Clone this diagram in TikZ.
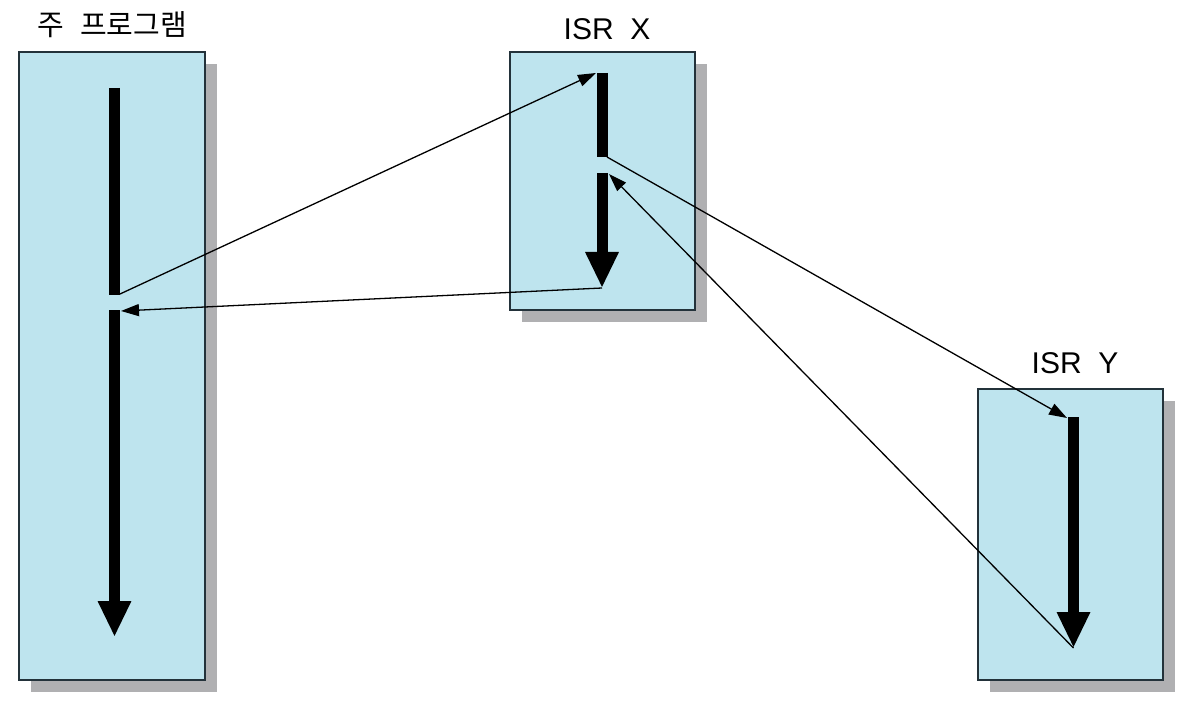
\documentclass[tikz,border=0pt]{standalone}
\usepackage{fontspec}
\setmainfont{Liberation Sans}[WordSpace=2]
\newfontfamily\krfont{Noto Sans CJK KR}[WordSpace=2.5]
\usetikzlibrary{arrows.meta,shadows}

\definecolor{boxfill}{RGB}{190,228,238}
\definecolor{boxline}{RGB}{35,50,58}
\definecolor{shadowgray}{RGB}{176,176,178}

\begin{document}
\begin{tikzpicture}[x=1pt,y=-1pt,
  prog/.style={draw=boxline, line width=1.3pt, fill=boxfill, inner sep=0pt,
    drop shadow={shadow xshift=12pt, shadow yshift=-12pt, fill=shadowgray, opacity=1}},
  flow/.style={line width=11pt},
  flowend/.style={line width=11pt, -{Triangle[length=36pt,width=31pt]}},
  jump/.style={line width=1.3pt, -{Triangle[length=18pt,width=12pt]}},
  lbl/.style={font=\fontsize{30}{32}\selectfont, inner sep=0pt}]
\useasboundingbox (0,0) rectangle (1185,711);

% boxes
\node[prog, minimum width=186pt, minimum height=628pt] (main) at (112,366) {};
\node[prog, minimum width=185pt, minimum height=258pt] (isrx) at (602.5,181) {};
\node[prog, minimum width=185pt, minimum height=291pt] (isry) at (1070.5,534.5) {};
\node[lbl, font=\krfont\fontsize{29}{32}\selectfont] (mainlbl) at (112,25) {주 프로그램};
\node[lbl] (xlbl) at (607,29) {ISR X};
\node[lbl] (ylbl) at (1075,363) {ISR Y};

% execution lines
\coordinate (m1) at (114.5,88);  \coordinate (m2) at (114.5,295);
\coordinate (m3) at (114.5,310); \coordinate (m4) at (114.5,637);
\coordinate (x1) at (602,73);    \coordinate (x2) at (602,157);
\coordinate (x3) at (602,173);   \coordinate (x4) at (602,288);
\coordinate (y1) at (1073.5,417); \coordinate (y2) at (1073.5,648);
\draw[flow] (m1) -- (m2);
\draw[flowend] (m3) -- (m4);
\draw[flow] (x1) -- (x2);
\draw[flowend] (x3) -- (x4);
\draw[flowend] (y1) -- (y2);

% jumps
\coordinate (mout) at (120,294);  \coordinate (mback) at (121,311);
\coordinate (xin) at (596,73);    \coordinate (xout) at (607,157);
\coordinate (xback) at (609,174); \coordinate (yin) at (1067,418);
\draw[jump] (mout) -- (xin);
\draw[jump] (x4) -- (mback);
\draw[jump] (xout) -- (yin);
\draw[jump] (y2) -- (xback);
\end{tikzpicture}
\end{document}
